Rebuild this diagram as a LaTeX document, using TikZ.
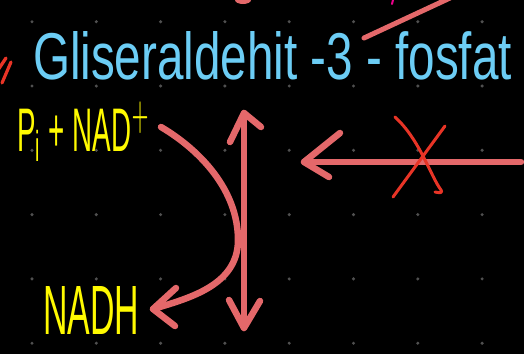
\documentclass[tikz,border=0pt]{standalone}
\usepackage{fontspec}
\setmainfont{Liberation Sans}
\usepackage{graphicx}
\definecolor{salmon}{RGB}{228,104,106}
\definecolor{xred}{RGB}{232,52,38}
\definecolor{sky}{RGB}{108,205,245}
\definecolor{hl}{RGB}{255,250,0}
\definecolor{dotc}{RGB}{80,80,80}
\begin{document}
\begin{tikzpicture}[x=1pt,y=-1pt,
  pen/.style={draw=salmon,line width=6.5pt,line cap=round,line join=round},
  thinpen/.style={draw=xred,line width=3pt,line cap=round,line join=round},
  lbl/.style={inner sep=0pt,outer sep=0pt}]
\fill[black] (0,0) rectangle (524,354);
\useasboundingbox (0,0) rectangle (524,354);
% dot grid
\foreach \i in {0,...,7}{\foreach \j in {0,...,5}{
  \fill[dotc] ({32+64.3*\i},{21.7+64.3*\j}) circle (1.7pt);}}
% stray marks at the edges
\fill[salmon] (243,0) ellipse (8pt and 4pt);
\draw[magenta,line width=2pt,line cap=round] (393,0) -- (392,4);
\draw[pen,line width=5pt] (364,38) -- (450,-2);
\draw[thinpen,line width=3.2pt] (2,83) -- (11,62);
\draw[thinpen,line width=3.2pt] (-2,70) -- (6,58);
% texts
\node[lbl,anchor=base west,text=sky] (title) at (33,79)
  {\resizebox{479pt}{48pt}{Gliseraldehit -3 - fosfat}};
\node[lbl,anchor=base west,text=hl] (reac) at (17,151)
  {\resizebox{133pt}{49pt}{P$_{\mathrm{i}}$ + NAD$^{+}$}};
\node[lbl,anchor=base west,text=hl] (prod) at (43,334)
  {\resizebox{96pt}{48pt}{NADH}};
% connector coordinates
\coordinate (cs) at (161,127);
\coordinate (ce) at (153,309);
\coordinate (vt) at (244,113);
\coordinate (vb) at (244,328);
\coordinate (hs) at (521,162);
\coordinate (he) at (304,162);
% curved arrow from reactants to NADH
\draw[pen] (cs) .. controls (200,150) and (238,190) .. (238,240)
  .. controls (238,285) and (190,298) .. (ce);
\draw[pen] (176,288) -- (ce) -- (175,326);
% vertical double arrow
\draw[pen] (vt) -- (vb);
\draw[pen] (230,142) -- (vt) -- (261,127);
\draw[pen] (229,300) -- (vb) -- (260,301);
% horizontal arrow
\draw[pen] (hs) -- (he);
\draw[pen] (340,133) -- (he) -- (329,177);
% red cross
\draw[thinpen] (395,117) .. controls (420,140) and (430,175) .. (441,190) .. controls (443,193) and (440,193) .. (435,192);
\draw[thinpen] (445,126) -- (393,197);
\end{tikzpicture}
\end{document}
